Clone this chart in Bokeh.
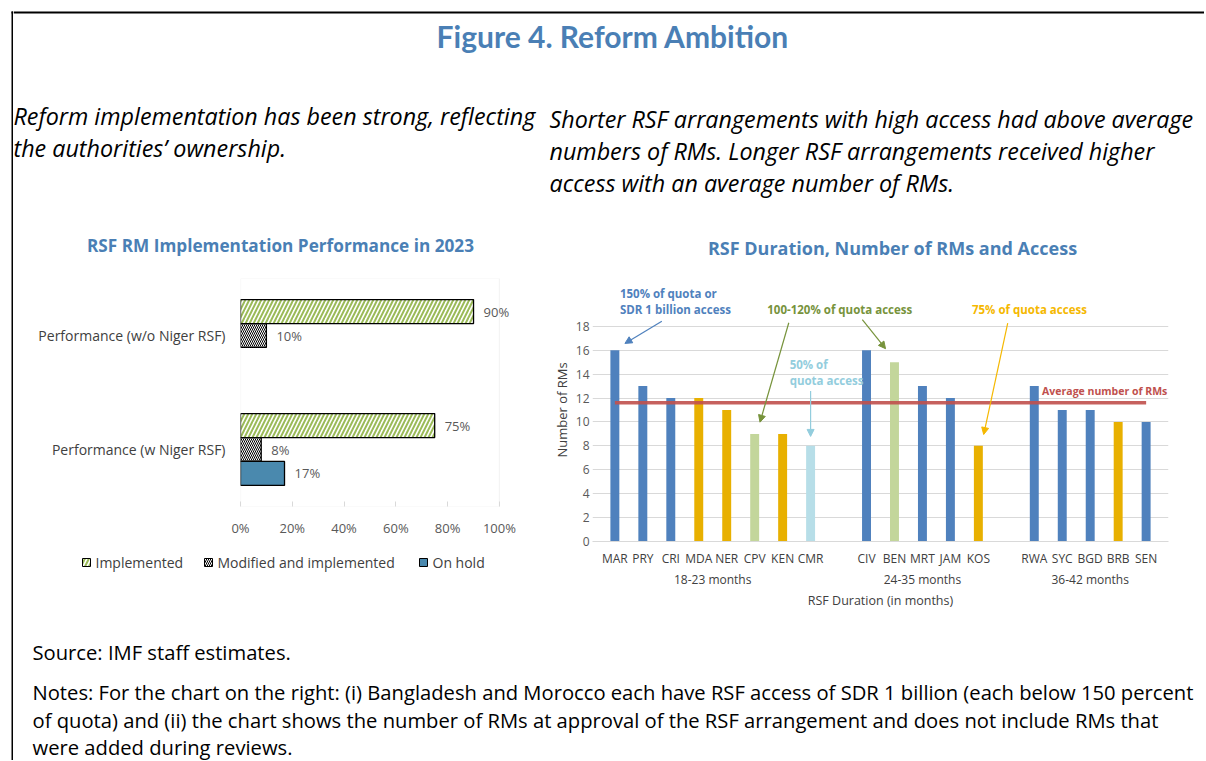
import numpy as np
from bokeh.plotting import figure
from bokeh.models import (Range1d, FactorRange, FixedTicker, NumeralTickFormatter,
                          ColumnDataSource, Arrow, NormalHead,
                          Label, LabelSet, BoxAnnotation)
from bokeh.transform import dodge, factor_cmap
from bokeh.layouts import row, column
from bokeh.core.properties import value
from bokeh.embed import file_html
from bokeh.resources import INLINE

FONT = "Open Sans"

# ------------------------------------------------------------------ texts
fig_title = "Figure 4.  Reform Ambition"
left_subtitle = ["Reform implementation has been strong, reflecting",
                 "the authorities\u2019 ownership."]
right_subtitle = ["Shorter RSF arrangements with high access had above average",
                  "numbers of RMs. Longer RSF arrangements received higher",
                  "access with an average number of RMs."]
left_title = "RSF RM Implementation Performance in 2023"
right_title = "RSF Duration, Number of RMs and Access"
source_line = "Source: IMF staff estimates."
note_lines = ["Notes: For the chart on the right: (i) Bangladesh and Morocco each have RSF access of SDR 1 billion (each below 150 percent",
              "of quota) and (ii) the chart shows the number of RMs at approval of the RSF arrangement and does not include RMs that",
              "were added during reviews."]

# ------------------------------------------------------------------ left chart data
perf_categories = ["Performance (w Niger RSF)", "Performance (w/o Niger RSF)"]  # bottom -> top
perf_series = ["Implemented", "Modified and implemented", "On hold"]
implemented = [0.75, 0.90]
modified = [0.08, 0.10]
on_hold = [0.17, 0.0]
pct_ticks = [0, 0.2, 0.4, 0.6, 0.8, 1.0]

# ------------------------------------------------------------------ right chart data
countries = ["MAR", "PRY", "CRI", "MDA", "NER", "CPV", "KEN", "CMR",
             "CIV", "BEN", "MRT", "JAM", "KOS",
             "RWA", "SYC", "BGD", "BRB", "SEN"]
durations = ["18-23 months"] * 8 + ["24-35 months"] * 5 + ["36-42 months"] * 5
num_rms = [16, 13, 12, 12, 11, 9, 9, 8,
           16, 15, 13, 12, 8,
           13, 11, 11, 10, 10]
access_levels = ["150% of quota or SDR 1 billion access", "100-120% of quota access",
                 "75% of quota access", "50% of quota access"]
access = [0, 0, 0, 2, 2, 1, 2, 3,
          0, 1, 0, 0, 2,
          0, 0, 0, 2, 0]
rm_ticks = list(range(0, 19, 2))

# ------------------------------------------------------------------ styles
BLUE_T = "#4a7fb5"
GREY_T = "#595959"
DARK_T = "#404040"
bar_colors = ["#4f81bd", "#c3d69b", "#e8b000", "#b7dee8"]
series_styles = [dict(fill_color="white", hatch_pattern="/", hatch_color="#9bbb59", hatch_scale=8, hatch_weight=2),
                 dict(fill_color="white", hatch_pattern="\\", hatch_color="black", hatch_scale=4, hatch_weight=1),
                 dict(fill_color="#4a89ae")]


def canvas(w, h):
    p = figure(width=w, height=h, x_range=Range1d(0, w), y_range=Range1d(h, 0),
               output_backend="svg", toolbar_location=None, min_border=0,
               x_axis_location=None, y_axis_location=None, outline_line_color=None)
    p.xgrid.visible = False
    p.ygrid.visible = False
    return p


# ------------------------------------------------------------------ border strip
strip = canvas(13, 760)
strip.segment(x0=[12, 11], y0=[11, 12], x1=[12, 13], y1=[760, 12], line_color="black", line_width=2)

# ------------------------------------------------------------------ header
head = canvas(1191, 262)
head.segment(x0=[0], y0=[12], x1=[1191], y1=[12], line_color="black", line_width=2)
head.text(x=[603], y=[35], text=[fig_title], text_font=value("Lato"), text_font_style="bold",
          text_font_size="30px", text_color=BLUE_T, text_align="center", text_baseline="middle")
head.text(x=[0] * len(left_subtitle), y=[115 + 32 * i for i in range(len(left_subtitle))],
          text=left_subtitle, text_font=value(FONT), text_font_style="italic",
          text_font_size="23.3px", text_color="black", text_align="left", text_baseline="middle")
head.text(x=[536] * len(right_subtitle), y=[118 + 32 * i for i in range(len(right_subtitle))],
          text=right_subtitle, text_font=value(FONT), text_font_style="italic",
          text_font_size="23.3px", text_color="black", text_align="left", text_baseline="middle")
head.text(x=[267], y=[245], text=[left_title], text_font=value(FONT),
          text_font_style="bold", text_font_size="17.2px", text_color=BLUE_T,
          text_align="center", text_baseline="middle")
head.text(x=[879], y=[247], text=[right_title], text_font=value(FONT),
          text_font_style="bold", text_font_size="18px", text_color=BLUE_T,
          text_align="center", text_baseline="middle")

# ------------------------------------------------------------------ left chart
lp = figure(width=532, height=290, y_range=FactorRange(factors=perf_categories),
            x_range=Range1d(0, 1.12), output_backend="svg", toolbar_location=None,
            min_border_left=227, min_border_right=15, min_border_top=16, min_border_bottom=46)
lp.outline_line_color = None
lp.xgrid.visible = False
lp.ygrid.visible = False
lp.add_layout(BoxAnnotation(left=0, right=1, fill_alpha=0, line_color="#d9d9d9", line_width=1.2))

series_vals = [implemented, modified, on_hold]
offsets = [0.21, 0.0, -0.21]
for name, vals, off, st in zip(perf_series, series_vals, offsets, series_styles):
    keep = [i for i, v in enumerate(vals) if v > 0]
    src = ColumnDataSource(dict(cat=[perf_categories[i] for i in keep],
                                val=[vals[i] for i in keep],
                                lbl=[f"{vals[i]:.0%}" for i in keep]))
    lp.hbar(y=dodge("cat", off, range=lp.y_range), left=0, right="val", height=0.21,
            source=src, line_color="black", line_width=1.3, **st)
    lp.add_layout(LabelSet(x="val", y=dodge("cat", off, range=lp.y_range), text="lbl", source=src,
                           x_offset=10, text_baseline="middle", text_align="left",
                           text_font=value(FONT), text_font_size="13px", text_color=GREY_T))

lp.xaxis.ticker = FixedTicker(ticks=pct_ticks)
lp.xaxis.formatter = NumeralTickFormatter(format="0%")
lp.xaxis.axis_line_color = None
lp.xaxis.major_tick_in = 5
lp.xaxis.major_tick_out = 0
lp.xaxis.major_tick_line_color = "#d9d9d9"
lp.xaxis.minor_tick_line_color = None
lp.xaxis.major_label_standoff = 12
lp.xaxis.major_label_text_font = FONT
lp.xaxis.major_label_text_font_size = "13px"
lp.xaxis.major_label_text_color = GREY_T
lp.yaxis.axis_line_color = None
lp.yaxis.major_tick_line_color = None
lp.yaxis.major_tick_out = 0
lp.yaxis.major_label_standoff = 15
lp.yaxis.major_label_text_font = FONT
lp.yaxis.major_label_text_font_size = "14px"
lp.yaxis.major_label_text_color = DARK_T

# legend of the left chart, drawn in its own strip below it
leg = canvas(532, 64)
leg_x = [69, 191, 406]   # left edge of each key square (strip pixels)
SQ = 8
for st, x0 in zip(series_styles, leg_x):
    leg.quad(left=[x0], right=[x0 + SQ], top=[6], bottom=[6 + SQ], line_color="black",
             line_width=1, **st)
leg.text(x=[x0 + SQ + 5 for x0 in leg_x], y=[10] * len(leg_x), text=perf_series,
         text_font=value(FONT), text_font_size="14px", text_color=DARK_T,
         text_align="left", text_baseline="middle")

# ------------------------------------------------------------------ right chart
GROUP_PAD = 1.0
factors = list(zip(durations, countries))
rp = figure(width=659, height=354,
            x_range=FactorRange(*factors, group_padding=GROUP_PAD, range_padding=0.3,
                                range_padding_units="absolute"),
            y_range=Range1d(0, 22), output_backend="svg", toolbar_location=None,
            min_border_left=47, min_border_right=36, min_border_top=16, min_border_bottom=75)
rp.outline_line_color = None
rsrc = ColumnDataSource(dict(x=factors, rms=num_rms, acc=[access_levels[a] for a in access]))
rp.vbar(x="x", top="rms", width=0.32, source=rsrc, line_color=None,
        fill_color=factor_cmap("acc", bar_colors, access_levels))

avg = float(np.mean(num_rms))
rp.line(x=[factors[0], factors[-1]], y=[avg, avg], line_color="#c0504d", line_width=3.5, line_alpha=0.9)

groups = list(dict.fromkeys(durations))


def xpos(c):
    i = countries.index(c)
    return i + 0.5 + groups.index(durations[i]) * GROUP_PAD


def val(c):
    return num_rms[countries.index(c)]


def arrow(color, x0, y0, c, dx, dy):
    rp.add_layout(Arrow(x_start=x0, y_start=y0, x_end=xpos(c) + dx, y_end=val(c) + dy,
                        line_color=color, line_width=1.2,
                        end=NormalHead(size=7, fill_color=color, line_color=color)))


def label(x, y, text, color, size="11.5px"):
    rp.add_layout(Label(x=x, y=y, text=text, text_font=FONT, text_font_style="bold",
                        text_font_size=size, text_color=color, text_baseline="middle"))


label(0.68, 20.75, "150% of quota or", "#4f81bd")
label(0.68, 19.41, "SDR 1 billion access", "#4f81bd")
arrow("#4f81bd", 2.18, 18.43, "MAR", 0.36, 0.57)
label(5.95, 19.41, "100-120% of quota access", "#77933c")
arrow("#77933c", 6.72, 18.3, "CPV", 0.19, 0.98)
arrow("#77933c", 9.35, 18.55, "BEN", -0.32, 1.13)
label(6.75, 14.79, "50% of", "#93cddd")
label(6.75, 13.47, "quota access", "#93cddd")
arrow("#93cddd", xpos("CMR"), 12.58, "CMR", 0.0, 0.79)
label(13.27, 19.41, "75% of quota access", "#f5b800")
arrow("#f5b800", 14.55, 18.27, "KOS", 0.19, 0.95)
label(15.78, 12.58, "Average number of RMs", "#c0504d", "10.5px")

rp.xgrid.visible = False
rp.ygrid.grid_line_color = "#d9d9d9"
rp.yaxis.ticker = FixedTicker(ticks=rm_ticks)
rp.ygrid.ticker = FixedTicker(ticks=rm_ticks)
rp.yaxis.axis_line_color = None
rp.yaxis.major_tick_line_color = None
rp.yaxis.major_tick_out = 0
rp.yaxis.minor_tick_line_color = None
rp.yaxis.major_label_standoff = 3
rp.yaxis.major_label_text_font = FONT
rp.yaxis.major_label_text_font_size = "12px"
rp.yaxis.major_label_text_color = GREY_T
rp.yaxis.axis_label = "Number of RMs"
rp.yaxis.axis_label_text_font = FONT
rp.yaxis.axis_label_text_font_style = "normal"
rp.yaxis.axis_label_text_font_size = "13px"
rp.yaxis.axis_label_text_color = DARK_T
rp.yaxis.axis_label_standoff = 2

rp.xaxis.axis_line_color = "#d9d9d9"
rp.xaxis.major_tick_line_color = None
rp.xaxis.major_tick_out = 7
rp.xaxis.major_label_standoff = 1
rp.xaxis.major_label_text_font = FONT
rp.xaxis.major_label_text_font_size = "12px"
rp.xaxis.major_label_text_color = DARK_T
rp.xaxis.group_text_font = FONT
rp.xaxis.group_text_font_size = "12px"
rp.xaxis.group_text_font_style = "normal"
rp.xaxis.group_text_color = DARK_T
rp.xaxis.separator_line_alpha = 0
rp.xaxis.axis_label = "RSF Duration (in months)"
rp.xaxis.axis_label_text_font = FONT
rp.xaxis.axis_label_text_font_style = "normal"
rp.xaxis.axis_label_text_font_size = "12.5px"
rp.xaxis.axis_label_text_color = DARK_T
rp.xaxis.axis_label_standoff = 1

# ------------------------------------------------------------------ footer
foot = canvas(1191, 144)
foot.text(x=[19] * 4, y=[35, 75, 103, 130], text=[source_line] + note_lines,
          text_font=value(FONT), text_font_size="20.2px", text_color="black",
          text_align="left", text_baseline="middle")

layout = row(strip, column(head, row(column(lp, row(leg)), rp), foot))
open("out.html", "w").write(file_html(layout, INLINE))
